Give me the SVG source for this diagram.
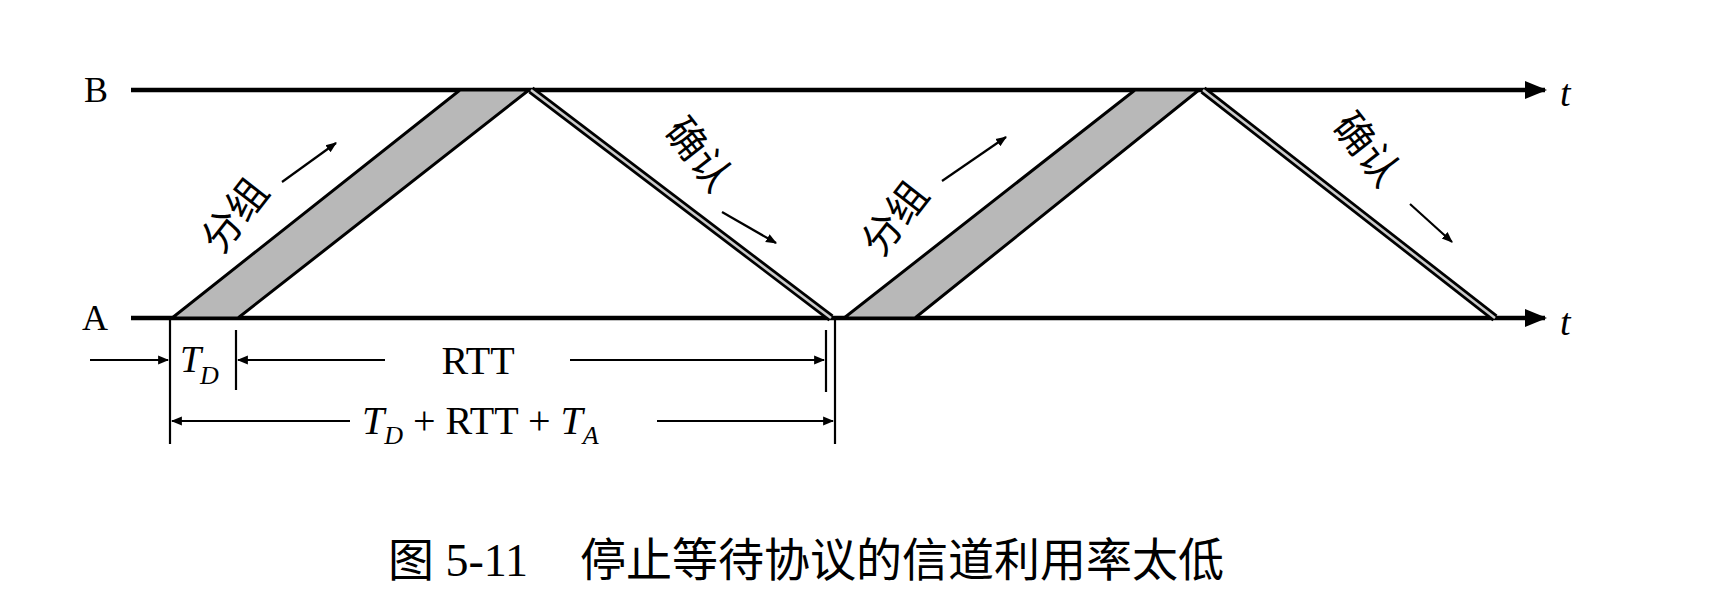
<svg xmlns="http://www.w3.org/2000/svg" width="1717" height="604" viewBox="0 0 1717 604">
<style>
.ser{font-family:"Liberation Serif",serif;fill:#000}
.it{font-style:italic}
.cjk{font-family:"Liberation Serif","Noto Sans CJK SC",serif;fill:#000}
.ln{stroke:#000;stroke-width:4.5;fill:none}
.thin{stroke:#000;stroke-width:2.2;fill:none}
.pk{fill:#b8b8b8;stroke:#000;stroke-width:3}
.ack{stroke:#000;stroke-width:8}
.ackin{stroke:#ccc;stroke-width:2.5}
</style>
<defs>
<marker id="ah" viewBox="0 0 10 10" refX="9" refY="5" markerWidth="5" markerHeight="5" orient="auto-start-reverse"><path d="M0,1 L10,5 L0,9 Z" fill="#000"/></marker>
</defs>
<rect width="1717" height="604" fill="#fff"/>
<g id="lineB"><line class="ln" x1="131" y1="90" x2="1545" y2="90" marker-end="url(#ah)"/><text class="ser" x="84" y="102" font-size="36">B</text><text class="ser it" x="1560" y="106" font-size="38">t</text></g>
<g id="lineA"><line class="ln" x1="131" y1="318" x2="1545" y2="318" marker-end="url(#ah)"/><text class="ser" x="82" y="330" font-size="36">A</text><text class="ser it" x="1560" y="335" font-size="38">t</text></g>
<g id="packet1"><polygon class="pk" points="172,318 238,318 529,90 460,90"/></g>
<g id="ack1"><line class="ack" x1="531" y1="90" x2="831" y2="318"/><line class="ackin" x1="531" y1="90" x2="831" y2="318"/></g>
<g id="packet2"><polygon class="pk" points="844,318 915,318 1199,90 1135,90"/></g>
<g id="ack2"><line class="ack" x1="1203" y1="90" x2="1495" y2="318"/><line class="ackin" x1="1203" y1="90" x2="1495" y2="318"/></g>
<g id="labels">
<text class="cjk" font-size="40" text-anchor="middle" transform="translate(246,224) rotate(-52)">分组</text>
<line class="thin" x1="282" y1="182" x2="336" y2="143" marker-end="url(#ah)"/>
<text class="cjk" font-size="40" text-anchor="middle" transform="translate(688,163) rotate(52)">确认</text>
<line class="thin" x1="722" y1="212" x2="776" y2="243" marker-end="url(#ah)"/>
<text class="cjk" font-size="40" text-anchor="middle" transform="translate(906,227) rotate(-52)">分组</text>
<line class="thin" x1="942" y1="181" x2="1006" y2="137" marker-end="url(#ah)"/>
<text class="cjk" font-size="40" text-anchor="middle" transform="translate(1356,158) rotate(52)">确认</text>
<line class="thin" x1="1410" y1="204" x2="1452" y2="242" marker-end="url(#ah)"/>
</g>
<g id="dimensions">
<line class="thin" x1="170" y1="318" x2="170" y2="444"/>
<line class="thin" x1="236" y1="330" x2="236" y2="390"/>
<line class="thin" x1="826" y1="330" x2="826" y2="392"/>
<line class="thin" x1="835" y1="318" x2="835" y2="444"/>
<line class="thin" x1="90" y1="360" x2="168" y2="360" marker-end="url(#ah)"/>
<text class="ser it" x="180" y="372" font-size="38">T</text><text class="ser it" x="200" y="384" font-size="26">D</text>
<line class="thin" x1="385" y1="360" x2="238" y2="360" marker-end="url(#ah)"/>
<line class="thin" x1="570" y1="360" x2="824" y2="360" marker-end="url(#ah)"/>
<text class="ser" x="478" y="374" font-size="40" text-anchor="middle">RTT</text>
<line class="thin" x1="350" y1="421" x2="172" y2="421" marker-end="url(#ah)"/>
<line class="thin" x1="657" y1="421" x2="833" y2="421" marker-end="url(#ah)"/>
<text class="ser" x="362" y="434" font-size="40"><tspan class="it">T</tspan><tspan class="it" font-size="26" dy="10">D</tspan><tspan dy="-10"> + RTT + </tspan><tspan class="it">T</tspan><tspan class="it" font-size="26" dy="10">A</tspan></text>
</g>
<text class="cjk" x="388" y="576" font-size="46">图 5-11<tspan x="580">停止等待协议的信道利用率太低</tspan></text>
</svg>
